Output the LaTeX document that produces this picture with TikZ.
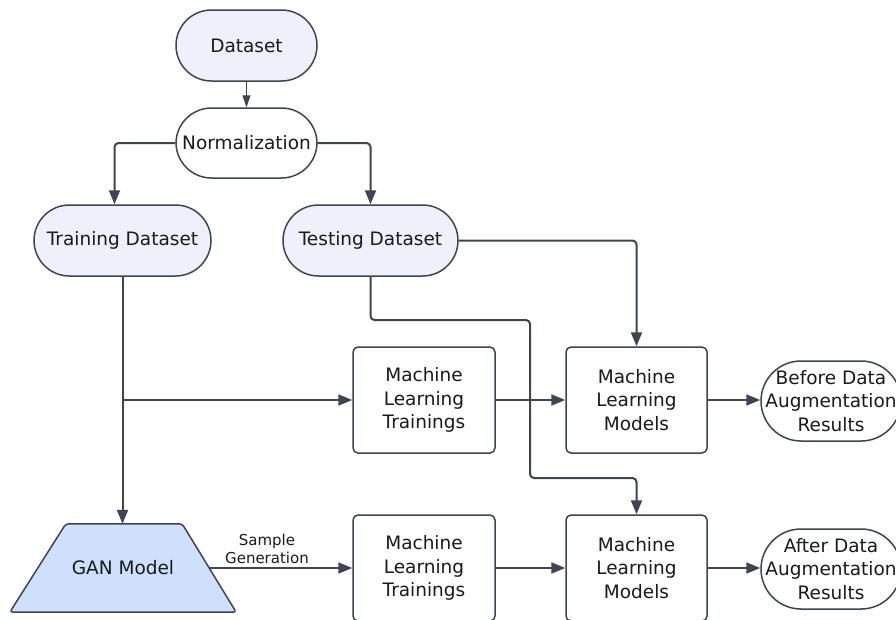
\documentclass[tikz,border=0pt]{standalone}
\usepackage{fontspec}
\setmainfont{DejaVu Sans}
\usetikzlibrary{arrows.meta,backgrounds}
\definecolor{edgec}{HTML}{3F4450}
\definecolor{lav}{RGB}{240,240,253}
\definecolor{ganblue}{RGB}{206,224,252}
\definecolor{txt}{HTML}{1A1A1A}
\begin{document}
\begin{tikzpicture}[x=1pt,y=-1pt,
  base/.style={draw=edgec, line width=1.5pt, align=center, inner sep=0pt,
    text=txt, font=\fontsize{18.5}{23.5}\selectfont},
  pillbox/.style={base, rectangle, rounded corners=35.5pt, minimum height=71pt},
  resbox/.style={base, rectangle, rounded corners=40pt, minimum width=140pt, minimum height=80pt, fill=white},
  stepbox/.style={base, rectangle, rounded corners=5pt, minimum width=142pt, minimum height=106pt, fill=white},
  ganbox/.style={align=center, inner sep=0pt, text=txt, font=\fontsize{18.5}{23.5}\selectfont,
    minimum width=226pt, minimum height=88pt},
  ganshape/.style={draw=edgec, line width=1.5pt, fill=ganblue, rounded corners=3pt},
  conn/.style={draw=edgec, line width=2pt, rounded corners=4pt, -{Triangle[length=14pt,width=11pt]}},
  thinconn/.style={draw=edgec, line width=1pt, -{Triangle[length=12pt,width=8pt]}},
  lbl/.style={align=center, inner sep=0pt, text=txt, font=\fontsize{15}{18}\selectfont}
]
\useasboundingbox (0,0) rectangle (896,619);

% nodes
\node[pillbox, fill=lav, minimum width=141pt] (ds) at (246.5,45.5) {Dataset};
\node[pillbox, fill=white, minimum width=141pt, minimum height=70pt] (norm) at (246.5,143) {Normalization};
\node[pillbox, fill=lav, minimum width=177pt] (train) at (122.5,240.5) {Training Dataset};
\node[pillbox, fill=lav, minimum width=175pt] (test) at (370.5,240.5) {Testing Dataset};

\node[stepbox] (mlt1) at (424,400) {Machine\\Learning\\Trainings};
\node[stepbox, minimum width=141pt] (mlm1) at (636.5,400) {Machine\\Learning\\Models};
\node[resbox] (res1) at (831,401) {Before Data\\Augmentation\\Results};

\node[ganbox] (gan) at (123,568) {GAN Model};
\begin{scope}[on background layer]
  \draw[ganshape] (gan.south west) -- (gan.south east)
    -- ([xshift=-54pt]gan.north east) -- ([xshift=56pt]gan.north west) -- cycle;
\end{scope}
\node[stepbox] (mlt2) at (424,568) {Machine\\Learning\\Trainings};
\node[stepbox, minimum width=141pt] (mlm2) at (636.5,568) {Machine\\Learning\\Models};
\node[resbox] (res2) at (831,569) {After Data\\Augmentation\\Results};

\node[lbl] (sglbl) at (267,549) {Sample\\Generation};

% helper coordinates
\coordinate (br) at (train.south |- mlt1.west);
\coordinate (j1) at (530,320);
\coordinate (j2) at (530,478);
\coordinate (ganout) at ([xshift=-26pt]gan.east);

% connectors
\draw[thinconn] (ds.south) -- (norm.north);
\draw[conn] (norm.west) -| ([xshift=-8pt]train.north);
\draw[conn] (norm.east) -| (test.north);
\draw[conn] (test.east) -| (mlm1.north);
\draw[conn] (train.south) -- (train.south |- gan.north);
\draw[conn] (br) -- (mlt1.west);
\draw[conn] (mlt1.east) -- (mlm1.west);
\draw[conn] (mlm1.east) -- (mlm1.east -| res1.west);
\draw[conn] (test.south) |- (j1) -- (j2) -| (mlm2.north);
\draw[conn] (ganout) -- (mlt2.west);
\draw[conn] (mlt2.east) -- (mlm2.west);
\draw[conn] (mlm2.east) -- (mlm2.east -| res2.west);
\end{tikzpicture}
\end{document}
